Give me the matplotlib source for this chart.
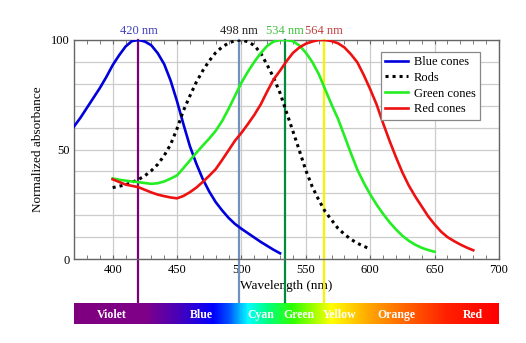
import numpy as np
import matplotlib
matplotlib.use("Agg")
import matplotlib.pyplot as plt
from matplotlib.colors import LinearSegmentedColormap

plt.rcParams['font.family'] = ['Liberation Serif', 'DejaVu Serif']

# ---- data ----
blue_x = [370, 375, 380, 385, 390, 395, 400, 405, 410, 415, 420, 425, 430, 435, 440, 445,
          450, 455, 460, 465, 470, 475, 480, 485, 490, 495, 500, 505, 510, 515, 520, 525, 530]
blue_y = [60.5, 64.5, 69, 73.5, 78, 83, 88.5, 93, 97, 99.5, 100, 99.3, 97.6, 94, 89, 81.5,
          72, 61.5, 51.5, 43.5, 36.5, 30.8, 26, 22.2, 18.8, 16, 13.8, 11.8, 9.8, 7.8, 6,
          4.2, 2.6]

rods_x = [400, 405, 410, 415, 420, 425, 430, 435, 440, 445, 450, 455, 460, 465, 470, 475,
          480, 485, 490, 495, 500, 505, 510, 515, 520, 525, 530, 535, 540, 545, 550, 555,
          560, 565, 570, 575, 580, 585, 590, 595, 600]
rods_y = [32.6, 33.2, 33.9, 35, 36.3, 38, 40.3, 43.2, 47.2, 52.3, 59.5, 67.8, 74.5, 80.8,
          86, 90.5, 94.2, 96.8, 98.6, 99.7, 100, 99.2, 97.5, 94, 88.6, 82.8, 75.8, 67, 58.3,
          49.5, 40.5, 33, 27, 21.7, 17.8, 14, 11.3, 9, 7.2, 5.8, 4.6]

green_x = [400, 405, 410, 415, 420, 425, 430, 435, 440, 445, 450, 455, 460, 465, 470, 475,
           480, 485, 490, 495, 500, 505, 510, 515, 520, 525, 530, 535, 540, 545, 550, 555,
           560, 565, 570, 575, 580, 585, 590, 595, 600, 605, 610, 615, 620, 625, 630, 635,
           640, 645, 650]
green_y = [36.8, 36.2, 35.8, 35.4, 35.1, 34.7, 34.3, 34.6, 35.4, 36.7, 38.2, 41.5, 45, 48.5,
           51.8, 55, 58.5, 63, 68.5, 74.5, 80.5, 85.5, 90, 94, 97.3, 99.3, 100, 100, 99.4,
           97.5, 94.2, 90, 84.5, 77.5, 70.5, 64, 56.2, 48.3, 40.8, 34.8, 29.5, 24.8, 20.6,
           16.8, 13.5, 10.6, 8.3, 6.5, 5.1, 4.1, 3.3]

red_x = [400, 405, 410, 415, 420, 425, 430, 435, 440, 445, 450, 455, 460, 465, 470, 475,
         480, 485, 490, 495, 500, 505, 510, 515, 520, 525, 530, 535, 540, 545, 550, 555,
         560, 565, 570, 575, 580, 585, 590, 595, 600, 605, 610, 615, 620, 625, 630, 635,
         640, 645, 650, 655, 660, 665, 670, 675, 680]
red_y = [36.4, 35.2, 34, 33.4, 32.8, 31.6, 30.4, 29.4, 28.7, 28.1, 27.7, 28.8, 30.5, 32.6,
         35.2, 38, 41, 45.2, 49.6, 54, 57.6, 61.6, 65.8, 70.6, 76.5, 82, 86, 90.3, 94.1,
         96.6, 98.3, 99.3, 100, 100, 99.5, 98.5, 96.6, 93.5, 89.8, 84, 77.5, 70.5, 62, 54,
         46.5, 39.5, 33.5, 28.5, 24, 19.5, 15.8, 12.5, 10, 8.2, 6.6, 5.2, 4.0]

peaks = [420, 498, 534, 564]
peak_labels = ["420 nm", "498 nm", "534 nm", "564 nm"]
peak_label_colors = ["#4040c0", "#202020", "#40c040", "#c04040"]
peak_line_colors = ["#7a007a", "#7090c0", "#008c3c", "#f5f500"]

band_names = ["Violet", "Blue", "Cyan", "Green", "Yellow", "Orange", "Red"]
band_pos = [399, 469, 515, 545, 576, 620, 680]

spec_nm = [370, 425, 450, 478, 490, 505, 520, 540, 570, 600, 630, 660, 700]
spec_col = ["#7f007f", "#7f0088", "#4a00b8", "#0000ff", "#0050ff", "#00ffff", "#00ff80",
            "#30ff00", "#ffff00", "#ffa500", "#ff6000", "#ff2000", "#ff0000"]

# ---- figure ----
W, H = 526, 343
fig = plt.figure(figsize=(W / 100, H / 100), dpi=100)
ax = fig.add_axes([74 / W, (H - 259) / H, 425 / W, 219 / H])

ax.plot(blue_x, blue_y, color="#0000dd", lw=1.9, label="Blue cones", zorder=3)
ax.plot(rods_x, rods_y, color="black", lw=2.2, ls=(0, (1, 1.3)), label="Rods", zorder=3)
ax.plot(green_x, green_y, color="#22ee22", lw=1.9, label="Green cones", zorder=3)
ax.plot(red_x, red_y, color="#ee1111", lw=1.9, label="Red cones", zorder=3)

ax.set_xlim(370, 700)
ax.set_ylim(0, 100)
ax.set_xticks([400, 450, 500, 550, 600, 650, 700])
ax.set_xticks(np.arange(380, 700, 10), minor=True)
ax.set_yticks([0, 50, 100])
ax.set_yticks(np.arange(0, 101, 10), minor=True)
ax.tick_params(axis='both', which='both', direction='in', top=True, labelsize=9,
               color="#666666", length=3)
ax.tick_params(axis='y', which='minor', length=0)
ax.tick_params(axis='y', which='major', length=0, pad=3)
ax.grid(True, axis='y', which='both', color="#cccccc", lw=0.9)
ax.grid(True, axis='x', which='major', color="#cccccc", lw=0.9)
ax.set_axisbelow(True)
for s in ax.spines.values():
    s.set_color("#666666")
    s.set_linewidth(1.0)
ax.set_xlabel("Wavelength (nm)", fontsize=9.5, labelpad=3)
ax.set_ylabel("Normalized absorbance", fontsize=9.5, labelpad=5)

ymin_ax = (259 - 303) / 219
for p, lab, lc, c in zip(peaks, peak_labels, peak_label_colors, peak_line_colors):
    ax.axvline(p, ymin=ymin_ax, ymax=1, color=c, lw=1.6, clip_on=False, zorder=2)
    ax.text(p, 101.5, lab, color=lc, ha='center', va='bottom', fontsize=9)

leg = ax.legend(loc='upper right', bbox_to_anchor=(0.97, 0.975), fontsize=9,
                fancybox=False, edgecolor="#888888", framealpha=1, handlelength=1.8,
                borderpad=0.35, labelspacing=0.3, handletextpad=0.5)
leg.get_frame().set_linewidth(0.9)

# spectrum bar
sax = fig.add_axes([74 / W, (H - 324) / H, 425 / W, 21 / H])
pos = [(v - 370) / 330 for v in spec_nm]
cmap = LinearSegmentedColormap.from_list("spec", list(zip(pos, spec_col)))
grad = np.linspace(370, 700, 600).reshape(1, -1)
sax.imshow(grad, aspect='auto', cmap=cmap, extent=[370, 700, 0, 1], vmin=370, vmax=700)
sax.set_xlim(370, 700)
sax.set_ylim(0, 1)
sax.axis('off')
for n, x in zip(band_names, band_pos):
    sax.text(x, 0.3, n, color='white', ha='center', va='baseline', fontsize=8.5,
             fontweight='bold')

fig.savefig("out.png", dpi=100)
